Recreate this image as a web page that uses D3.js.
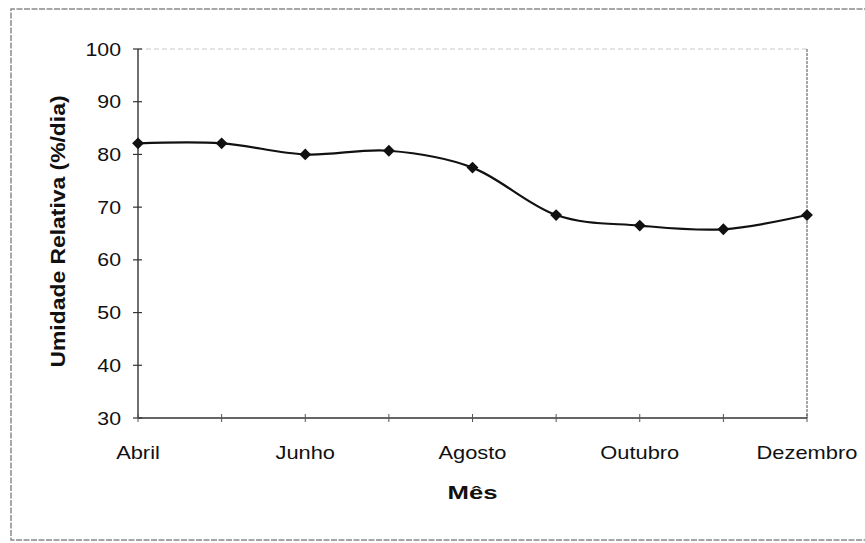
<!DOCTYPE html>
<html>
<head>
<meta charset="utf-8">
<script src="https://cdn.jsdelivr.net/npm/d3@7"></script>
<style>
  body { margin: 0; background: #fff; }
  text { font-family: "Liberation Sans", Arial, sans-serif; fill: #111; }
</style>
</head>
<body>
<div id="chart"></div>
<script>
// Umidade relativa média por mês (Abril a Dezembro)
const months = ["Abril", "Maio", "Junho", "Julho", "Agosto", "Setembro", "Outubro", "Novembro", "Dezembro"];
const humidity = [82.1, 82.1, 80.0, 80.7, 77.5, 68.5, 66.5, 65.8, 68.5];
const shownMonths = ["Abril", "Junho", "Agosto", "Outubro", "Dezembro"];
const yTicks = [30, 40, 50, 60, 70, 80, 90, 100];

const width = 865, height = 543;
const plot = { left: 138, right: 807, top: 49, bottom: 418 };

const svg = d3.select("#chart").append("svg")
  .attr("width", width)
  .attr("height", height);

// the scanned original is a bit wider than tall, so stretch text horizontally
const STRETCH = 1.15;
function stretch(sel, k) {
  sel.each(function () {
    const w = this.getComputedTextLength();
    d3.select(this).attr("textLength", w * k).attr("lengthAdjust", "spacingAndGlyphs");
  });
}

// outer frame (right edge is cut off in the scan)
svg.append("path")
  .attr("d", `M${width + 5},9 H11 V540 H${width + 5}`)
  .attr("fill", "none")
  .attr("stroke", "#8a8a8a")
  .attr("stroke-width", 1.5)
  .attr("stroke-dasharray", "6 1.5");

const x = d3.scalePoint()
  .domain(months)
  .range([plot.left, plot.right]);

const y = d3.scaleLinear()
  .domain([30, 100])
  .range([plot.bottom, plot.top]);

// plot area border: faint top, grey right
svg.append("line")
  .attr("x1", plot.left).attr("x2", plot.right)
  .attr("y1", plot.top).attr("y2", plot.top)
  .attr("stroke", "#c8c8c8").attr("stroke-width", 1)
  .attr("stroke-dasharray", "5 3");

svg.append("line")
  .attr("x1", plot.right).attr("x2", plot.right)
  .attr("y1", plot.top).attr("y2", plot.bottom)
  .attr("stroke", "#777").attr("stroke-width", 1.3)
  .attr("stroke-dasharray", "3 1");

// y axis
const yAxis = svg.append("g");
yAxis.append("line")
  .attr("x1", plot.left).attr("x2", plot.left)
  .attr("y1", plot.top).attr("y2", plot.bottom)
  .attr("stroke", "#333").attr("stroke-width", 1.4);

yAxis.selectAll(".ytick")
  .data(yTicks)
  .join("line")
  .attr("x1", plot.left - 5).attr("x2", plot.left + 4)
  .attr("y1", d => y(d)).attr("y2", d => y(d))
  .attr("stroke", "#333").attr("stroke-width", 1.2);

yAxis.selectAll(".ylab")
  .data(yTicks)
  .join("text")
  .attr("x", 121)
  .attr("y", d => y(d) + 6.5)
  .attr("text-anchor", "end")
  .style("font-size", "18.5px")
  .text(d => d)
  .call(stretch, STRETCH);

// x axis
const xAxis = svg.append("g");
xAxis.append("line")
  .attr("x1", plot.left).attr("x2", plot.right)
  .attr("y1", plot.bottom).attr("y2", plot.bottom)
  .attr("stroke", "#333").attr("stroke-width", 1.4);

xAxis.selectAll(".xtick")
  .data(months)
  .join("line")
  .attr("x1", d => x(d)).attr("x2", d => x(d))
  .attr("y1", plot.bottom - 4).attr("y2", plot.bottom + 4)
  .attr("stroke", "#555").attr("stroke-width", 1);

xAxis.selectAll(".xlab")
  .data(shownMonths)
  .join("text")
  .attr("x", d => x(d))
  .attr("y", 459)
  .attr("text-anchor", "middle")
  .style("font-size", "19px")
  .text(d => d)
  .call(stretch, STRETCH);

// axis titles
svg.append("text")
  .attr("x", x("Agosto"))
  .attr("y", 499)
  .attr("text-anchor", "middle")
  .style("font-size", "19px")
  .style("font-weight", "bold")
  .text("Mês")
  .attr("textLength", 50)
  .attr("lengthAdjust", "spacingAndGlyphs");

svg.append("text")
  .attr("transform", `translate(65, ${(plot.top + plot.bottom) / 2 - 2}) scale(1.15, 1) rotate(-90)`)
  .attr("text-anchor", "middle")
  .style("font-size", "18px")
  .style("font-weight", "bold")
  .text("Umidade Relativa (%/dia)")
  .attr("textLength", 272)
  .attr("lengthAdjust", "spacingAndGlyphs");

// smoothed line
const data = months.map((m, i) => ({ month: m, value: humidity[i] }));

const line = d3.line()
  .x(d => x(d.month))
  .y(d => y(d.value))
  .curve(d3.curveCardinal.tension(0));

svg.append("path")
  .datum(data)
  .attr("d", line)
  .attr("fill", "none")
  .attr("stroke", "#111")
  .attr("stroke-width", 2.2);

// diamond markers
const marker = d3.symbol().type(d3.symbolSquare).size(70);
svg.selectAll(".marker")
  .data(data)
  .join("path")
  .attr("class", "marker")
  .attr("transform", d => `translate(${x(d.month)},${y(d.value)}) rotate(45)`)
  .attr("d", marker)
  .attr("fill", "#111");
</script>
</body>
</html>
